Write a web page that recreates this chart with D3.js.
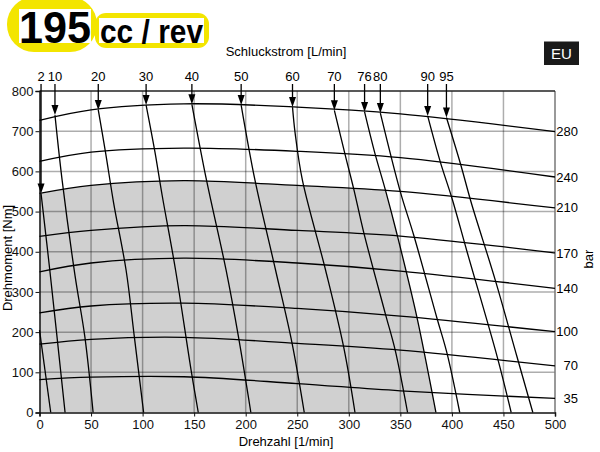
<!DOCTYPE html>
<html lang="de">
<head>
<meta charset="UTF-8">
<title>195 cc / rev</title>
<script src="https://d3js.org/d3.v7.min.js"></script>
<style>
  body { margin: 0; background: #fff; }
  svg { display: block; font-family: "Liberation Sans", Arial, sans-serif; }
</style>
</head>
<body>
<svg id="chart" width="600" height="452"></svg>
<script>
// pressure curves (bar): torque [Nm] read at these speeds [1/min]
const speedPoints = [0, 50, 140, 250, 350, 500];
const pressures = [280, 240, 210, 170, 140, 100, 70, 35];
const torque280 = [727, 753, 768, 760, 743, 699];
const torque240 = [625, 648, 658, 650, 634, 586];
const torque210 = [545, 565, 577, 565, 550, 509];
const torque170 = [438, 453, 465, 453, 439, 397];
const torque140 = [350, 372, 384, 372, 352, 309];
const torque100 = [248, 265, 272, 259, 240, 201];
const torque70  = [170, 182, 187, 172, 155, 116];
const torque35  = [82, 88, 89, 72, 54, 35];
const pressureTorques = [torque280, torque240, torque210, torque170, torque140, torque100, torque70, torque35];

// flow lines (L/min): [speed, torque] points, first point is the arrow tip
const flowLabels = ["2", "10", "20", "30", "40", "50", "60", "70", "76", "80", "90", "95"];
const flow2  = [[1.5, 545], [10, 354], [24.8, 0]];
const flow10 = [[15, 740], [22, 577], [34.5, 340], [44, 188], [52, 0]];
const flow20 = [[57, 753], [64, 648], [72, 520], [84, 354], [92, 188], [101, 0]];
const flow30 = [[103.4, 765], [112, 648], [119, 540], [132, 354], [147, 106], [154, 0]];
const flow40 = [[147.8, 767], [162, 578], [181, 354], [193, 188], [205, 0]];
const flow50 = [[195.6, 765], [209, 578], [229, 354], [245, 172], [256.8, 0]];
const flow60 = [[245.4, 760], [248, 694], [255, 578], [277.5, 354], [295, 163], [306, 0]];
const flow70 = [[286, 752], [296.6, 640], [304.7, 557], [314.4, 449], [335.4, 246], [345, 155], [357, 0]];
const flow76 = [[315.3, 748], [325, 648], [336, 549], [347, 441], [366, 238], [384.5, 0]];
const flow80 = [[330.6, 745], [350, 549], [363, 441], [385.6, 234], [395.3, 147], [407.6, 0]];
const flow90 = [[376.5, 738], [388.8, 623], [400.2, 532], [414.7, 400], [443.9, 139], [457.5, 0]];
const flow95 = [[394.7, 734], [408.3, 619], [419, 520], [442, 330], [463, 140], [478.5, 0]];
const flowLines = [flow2, flow10, flow20, flow30, flow40, flow50, flow60, flow70, flow76, flow80, flow90, flow95];
const flowShort = [[0, 205], [10.9, 0]];   // unlabeled stub near the origin

const xTicks = [0, 50, 100, 150, 200, 250, 300, 350, 400, 450, 500];
const yTicks = [0, 100, 200, 300, 400, 500, 600, 700, 800];

const svg = d3.select("#chart");
const x = d3.scaleLinear().domain([0, 500]).range([39.5, 555]);
const y = d3.scaleLinear().domain([0, 800]).range([412.5, 91]);

const line = d3.line()
    .x(d => x(d[0]))
    .y(d => y(d[1]))
    .curve(d3.curveCatmullRom.alpha(0.5));

// ---- title badges
svg.append("rect").attr("x", 7).attr("y", -3).attr("width", 90).attr("height", 55)
    .attr("rx", 27).attr("fill", "#f3e500");
svg.append("rect").attr("x", 19).attr("y", 9).attr("width", 72).attr("height", 34).attr("fill", "#fff");
svg.append("text").attr("x", 19).attr("y", 43)
    .attr("font-size", 45).attr("font-weight", "bold")
    .attr("textLength", 72).attr("lengthAdjust", "spacingAndGlyphs")
    .text("195");
svg.append("rect").attr("x", 95).attr("y", 13).attr("width", 114).attr("height", 35)
    .attr("rx", 11).attr("fill", "#f3e500");
svg.append("rect").attr("x", 99).attr("y", 18).attr("width", 105).attr("height", 25).attr("fill", "#fff");
svg.append("text").attr("x", 100).attr("y", 43)
    .attr("font-size", 33).attr("font-weight", "bold")
    .attr("textLength", 103).attr("lengthAdjust", "spacingAndGlyphs")
    .text("cc / rev");

// EU badge
svg.append("rect").attr("x", 544).attr("y", 41.5).attr("width", 35).attr("height", 23.5).attr("fill", "#1a1a1a");
svg.append("text").attr("x", 561.5).attr("y", 58.5).attr("text-anchor", "middle")
    .attr("font-size", 15).attr("fill", "#fff").text("EU");

// ---- shaded operating region: under the 210 bar curve, left of the 76 L/min line
const clip = svg.append("defs").append("clipPath").attr("id", "leftOf76");
clip.append("path")
    .attr("d", `M${x(0)},${y(0)}L${x(0)},${y(800)}L${x(flow76[0][0])},${y(800)}`
        + line(flow76).replace(/^M/, "L") + "Z");

const area = d3.area()
    .x(d => x(d[0]))
    .y0(y(0))
    .y1(d => y(d[1]))
    .curve(d3.curveCatmullRom.alpha(0.5));
svg.append("path")
    .datum(speedPoints.map((s, i) => [s, torque210[i]]))
    .attr("d", area)
    .attr("fill", "#d0d0d0")
    .attr("clip-path", "url(#leftOf76)");

// ---- grid
const grid = svg.append("g").attr("stroke", "rgba(0,0,0,0.32)").attr("stroke-width", 1.5);
grid.selectAll(".gx").data(xTicks.slice(1, -1)).join("line")
    .attr("x1", d => x(d)).attr("x2", d => x(d))
    .attr("y1", y(0)).attr("y2", y(800));
grid.selectAll(".gy").data(yTicks.slice(1, -1)).join("line")
    .attr("x1", x(0)).attr("x2", x(500))
    .attr("y1", d => y(d)).attr("y2", d => y(d));

// frame
svg.append("line").attr("x1", x(500)).attr("x2", x(500)).attr("y1", y(0)).attr("y2", y(800))
    .attr("stroke", "#777").attr("stroke-width", 1.5);
svg.append("line").attr("x1", x(0)).attr("x2", x(500)).attr("y1", y(800)).attr("y2", y(800))
    .attr("stroke", "#222").attr("stroke-width", 1.3);

// ---- axes
const yAxis = svg.append("g").attr("transform", `translate(${x(0)},0)`)
    .call(d3.axisLeft(y).tickValues(yTicks).tickSize(4).tickPadding(2));
const xAxis = svg.append("g").attr("transform", `translate(0,${y(0)})`)
    .call(d3.axisBottom(x).tickValues(xTicks).tickSize(4).tickPadding(3));
[xAxis, yAxis].forEach(g => {
    g.attr("font-family", null).attr("font-size", 13);
    g.selectAll("text").attr("fill", "#111");
    g.select(".domain").attr("stroke", "#111").attr("stroke-width", 1.5);
    g.selectAll(".tick line").attr("stroke", "#111");
});

// ---- pressure curves and their labels
const curves = svg.append("g").attr("fill", "none").attr("stroke", "#000").attr("stroke-width", 1.3);
pressureTorques.forEach(t => {
    curves.append("path").attr("d", line(speedPoints.map((s, i) => [s, t[i]])));
});
svg.append("g").attr("font-size", 13).attr("text-anchor", "end")
    .selectAll("text").data(pressures).join("text")
    .attr("x", 578)
    .attr("y", (p, i) => y(pressureTorques[i][speedPoints.length - 1]))
    .attr("dy", "0.35em")
    .text(p => p);

// ---- flow lines with arrows
flowLines.forEach(f => curves.append("path").attr("d", line(f)));
curves.append("path").attr("d", line(flowShort));

const arrows = svg.append("g");
flowLines.forEach((f, i) => {
    const ax = x(f[0][0]);
    const ay = y(f[0][1]);
    arrows.append("line").attr("x1", ax).attr("x2", ax).attr("y1", 84).attr("y2", ay - 7)
        .attr("stroke", "#000").attr("stroke-width", 1.3);
    arrows.append("path")
        .attr("d", `M${ax - 3.5},${ay - 10}L${ax + 3.5},${ay - 10}L${ax},${ay}Z`)
        .attr("fill", "#000");
    arrows.append("text").attr("x", ax).attr("y", 81)
        .attr("text-anchor", "middle").attr("font-size", 13)
        .text(flowLabels[i]);
});

// ---- axis titles
svg.append("text").attr("x", 286).attr("y", 56).attr("text-anchor", "middle")
    .attr("font-size", 13).text("Schluckstrom [L/min]");
svg.append("text").attr("x", 286).attr("y", 446).attr("text-anchor", "middle")
    .attr("font-size", 13).text("Drehzahl [1/min]");
svg.append("text").attr("transform", "translate(11.5,258) rotate(-90)")
    .attr("text-anchor", "middle").attr("font-size", 13).text("Drehmoment [Nm]");
svg.append("text").attr("transform", "translate(592.5,259) rotate(-90)")
    .attr("text-anchor", "middle").attr("font-size", 13).text("bar");
</script>
</body>
</html>
